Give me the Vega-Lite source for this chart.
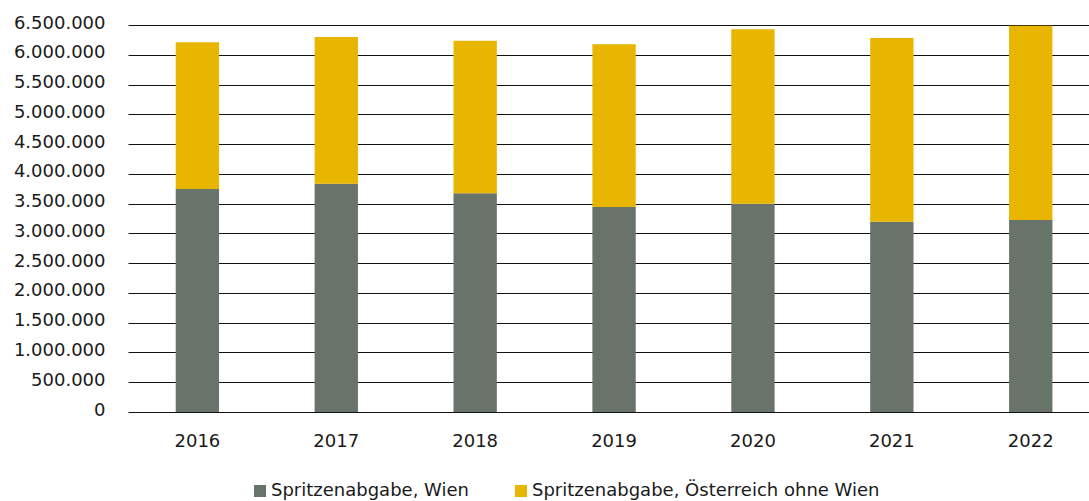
{
  "$schema": "https://vega.github.io/schema/vega-lite/v6.json",
  "width": 961,
  "height": 387,
  "autosize": {"type": "none"},
  "padding": {"left": 128, "top": 25, "right": 0, "bottom": 89},
  "background": "white",
  "config": {
    "locale": {"number": {"decimal": ",", "thousands": ".", "grouping": [3], "currency": ["", " €"]}},
    "view": {"stroke": null},
    "font": "DejaVu Sans",
    "axis": {"labelFont": "DejaVu Sans", "labelFontSize": 18, "labelColor": "#1a1a1a"},
    "legend": {"labelFont": "DejaVu Sans", "labelFontSize": 18, "labelColor": "#1a1a1a"}
  },
  "data": {
    "values": [
      {"jahr": "2016", "serie": "Spritzenabgabe, Wien", "wert": 3745000},
      {"jahr": "2016", "serie": "Spritzenabgabe, Österreich ohne Wien", "wert": 2464000},
      {"jahr": "2017", "serie": "Spritzenabgabe, Wien", "wert": 3835000},
      {"jahr": "2017", "serie": "Spritzenabgabe, Österreich ohne Wien", "wert": 2463000},
      {"jahr": "2018", "serie": "Spritzenabgabe, Wien", "wert": 3673000},
      {"jahr": "2018", "serie": "Spritzenabgabe, Österreich ohne Wien", "wert": 2563000},
      {"jahr": "2019", "serie": "Spritzenabgabe, Wien", "wert": 3443000},
      {"jahr": "2019", "serie": "Spritzenabgabe, Österreich ohne Wien", "wert": 2732000},
      {"jahr": "2020", "serie": "Spritzenabgabe, Wien", "wert": 3499000},
      {"jahr": "2020", "serie": "Spritzenabgabe, Österreich ohne Wien", "wert": 2928000},
      {"jahr": "2021", "serie": "Spritzenabgabe, Wien", "wert": 3197000},
      {"jahr": "2021", "serie": "Spritzenabgabe, Österreich ohne Wien", "wert": 3085000},
      {"jahr": "2022", "serie": "Spritzenabgabe, Wien", "wert": 3225000},
      {"jahr": "2022", "serie": "Spritzenabgabe, Österreich ohne Wien", "wert": 3264000}
    ]
  },
  "mark": {"type": "bar"},
  "encoding": {
    "x": {
      "field": "jahr",
      "type": "ordinal",
      "scale": {"paddingInner": 0.688, "paddingOuter": 0.3035, "align": 0.566},
      "axis": {"title": null, "labelAngle": 0, "domain": false, "ticks": false, "tickSize": 0, "labelPadding": 20, "grid": false}
    },
    "y": {
      "field": "wert",
      "type": "quantitative",
      "stack": "zero",
      "scale": {"domain": [0, 6500000], "nice": false},
      "axis": {
        "title": null,
        "values": [0, 500000, 1000000, 1500000, 2000000, 2500000, 3000000, 3500000, 4000000, 4500000, 5000000, 5500000, 6000000, 6500000],
        "format": ",d",
        "domain": false,
        "ticks": false,
        "tickSize": 0,
        "labelPadding": 23,
        "labelOffset": -2,
        "grid": true,
        "gridColor": "#111111",
        "gridWidth": 1,
        "gridOpacity": 1
      }
    },
    "color": {
      "field": "serie",
      "type": "nominal",
      "scale": {
        "domain": ["Spritzenabgabe, Wien", "Spritzenabgabe, Österreich ohne Wien"],
        "range": ["#687369", "#e8b500"]
      },
      "legend": {
        "title": null,
        "orient": "none",
        "direction": "horizontal",
        "legendX": 123,
        "legendY": 457,
        "padding": 0,
        "symbolType": "square",
        "symbolSize": 144,
        "symbolStrokeWidth": 0,
        "symbolOpacity": 1,
        "labelOffset": 2,
        "columnPadding": 43,
        "labelLimit": 500
      }
    },
    "order": {"field": "serie", "sort": "ascending"}
  }
}
